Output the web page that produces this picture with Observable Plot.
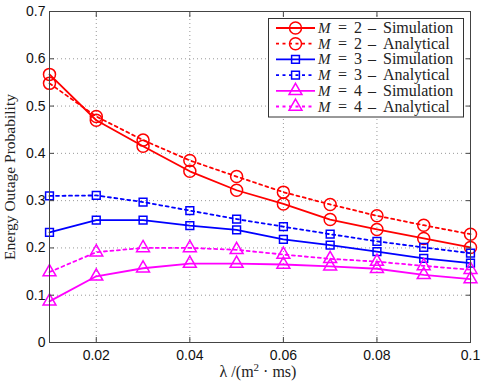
<!DOCTYPE html>
<html><head><meta charset="utf-8">
<script src="https://cdn.jsdelivr.net/npm/d3@7"></script>
<script src="https://cdn.jsdelivr.net/npm/@observablehq/plot@0.6"></script>
<style>body{margin:0;background:#fff}#chart{position:relative;width:485px;height:392px}</style>
</head><body><div id="chart"></div>
<script>
const lambda = [0.01, 0.02, 0.03, 0.04, 0.05, 0.06, 0.07, 0.08, 0.09, 0.1];
const m2Simulation = [0.567, 0.470, 0.415, 0.362, 0.322, 0.293, 0.260, 0.239, 0.220, 0.201];
const m2Analytical = [0.548, 0.478, 0.428, 0.385, 0.351, 0.318, 0.292, 0.268, 0.248, 0.229];
const m3Simulation = [0.233, 0.259, 0.259, 0.247, 0.238, 0.218, 0.206, 0.192, 0.178, 0.168];
const m3Analytical = [0.310, 0.311, 0.297, 0.279, 0.261, 0.245, 0.229, 0.214, 0.201, 0.189];
const m4Simulation = [0.087, 0.140, 0.157, 0.167, 0.167, 0.165, 0.161, 0.156, 0.143, 0.134];
const m4Analytical = [0.149, 0.191, 0.200, 0.200, 0.196, 0.186, 0.177, 0.171, 0.162, 0.154];
const seriesLabels = ["M = 2 – Simulation", "M = 2 – Analytical", "M = 3 – Simulation", "M = 3 – Analytical", "M = 4 – Simulation", "M = 4 – Analytical"];
const xTicks = [0.02, 0.04, 0.06, 0.08, 0.1];
const yTicks = [0, 0.1, 0.2, 0.3, 0.4, 0.5, 0.6, 0.7];
const yLabel = "Energy Outage Probability";
const xLabelParts = ["λ /(m", "2", " · ms)"];

const seriesValues = [m2Simulation, m2Analytical, m3Simulation, m3Analytical, m4Simulation, m4Analytical];
const dashed = "3,3.5";
const styles = [
  {color: "#ff0000", symbol: "circle", r: 6, dash: null},
  {color: "#ff0000", symbol: "circle", r: 6, dash: dashed},
  {color: "#0000ff", symbol: "square", r: 4.4, dash: null},
  {color: "#0000ff", symbol: "square", r: 4.4, dash: dashed},
  {color: "#ff00ff", symbol: "triangle", r: 4.8, dash: null},
  {color: "#ff00ff", symbol: "triangle", r: 4.8, dash: dashed}
];

const marks = [
  Plot.gridX({ticks: xTicks, stroke: "#999", strokeOpacity: 1, strokeDasharray: "1,3"}),
  Plot.gridY({ticks: yTicks, stroke: "#999", strokeOpacity: 1, strokeDasharray: "1,3"}),
];
seriesValues.forEach((vals, i) => {
  const rows = lambda.map((l, j) => ({x: l, y: vals[j]}));
  const s = styles[i];
  marks.push(Plot.line(rows, {x: "x", y: "y", stroke: s.color, strokeWidth: 1.8, strokeDasharray: s.dash}));
  marks.push(Plot.dot(rows, {x: "x", y: "y", stroke: s.color, fill: "none", strokeWidth: 1.5, symbol: s.symbol, r: s.r}));
});
marks.push(
  Plot.frame({stroke: "#444", strokeWidth: 1}),
  Plot.axisX({ticks: xTicks, tickSize: 0, tickPadding: 8, tickFormat: d => String(d), label: null}),
  Plot.axisY({ticks: yTicks, tickSize: 0, tickPadding: 4, tickFormat: d => String(d), label: null}),
  Plot.axisX({ticks: xTicks, anchor: "bottom", tickSize: -5, tickFormat: () => "", label: null, stroke: "#444"}),
  Plot.axisX({ticks: xTicks, anchor: "top", tickSize: -5, tickFormat: () => "", label: null, stroke: "#444"}),
  Plot.axisY({ticks: yTicks, anchor: "left", tickSize: -5, tickFormat: () => "", label: null, stroke: "#444"}),
  Plot.axisY({ticks: yTicks, anchor: "right", tickSize: -5, tickFormat: () => "", label: null, stroke: "#444"})
);

const chart = Plot.plot({
  width: 485, height: 392,
  marginLeft: 49, marginRight: 15, marginTop: 11, marginBottom: 50,
  x: {domain: [0.01, 0.1]},
  y: {domain: [0, 0.7]},
  style: {background: "#fff", fontFamily: "'Liberation Sans', Arial, sans-serif", fontSize: "14px", color: "#111"},
  marks
});
document.getElementById("chart").appendChild(chart);

const svg = d3.select(chart);
const serif = "'Liberation Serif', 'DejaVu Serif', serif";
svg.append("text").attr("transform", "translate(14.5,177) rotate(-90)")
  .attr("text-anchor", "middle").style("font-family", serif).style("font-size", "15.5px").attr("fill", "#222").text(yLabel);
const xl = svg.append("text").attr("x", 258).attr("y", 377)
  .attr("text-anchor", "middle").style("font-family", serif).style("font-size", "16px").attr("fill", "#222");
xl.append("tspan").text(xLabelParts[0]);
xl.append("tspan").attr("dy", -6).style("font-size", "11px").text(xLabelParts[1]);
xl.append("tspan").attr("dy", 6).text(xLabelParts[2]);

// legend
const lg = svg.append("g");
lg.append("rect").attr("x", 268.5).attr("y", 18.5).attr("width", 195).attr("height", 98.5)
  .attr("fill", "#fff").attr("stroke", "#333").attr("stroke-width", 1);
const partX = [318, 338, 354, 368, 383];
seriesLabels.forEach((lab, i) => {
  const s = styles[i];
  const cy = 28 + i * 15.7;
  lg.append("line").attr("x1", 276).attr("x2", 315).attr("y1", cy).attr("y2", cy)
    .attr("stroke", s.color).attr("stroke-width", 1.8).attr("stroke-dasharray", s.dash);
  const sym = {circle: d3.symbolCircle, square: d3.symbolSquare, triangle: d3.symbolTriangle}[s.symbol];
  lg.append("path").attr("d", d3.symbol(sym, Math.PI * s.r * s.r)())
    .attr("transform", `translate(295.5,${cy})`).attr("fill", "none").attr("stroke", s.color).attr("stroke-width", 1.5);
  const [lhs, rhs] = lab.split(" – ");
  const [mSym, eq, num] = lhs.split(" ");
  const pieces = [mSym, eq, num, "–", rhs];
  const t = lg.append("text").attr("y", cy + 5).attr("text-anchor", "start")
    .style("font-family", serif).style("font-size", "16px").attr("fill", "#222");
  pieces.forEach((p, k) => {
    const ts = t.append("tspan").attr("x", partX[k]).text(p);
    if (k === 0) ts.style("font-style", "italic").style("font-size", "15px");
  });
});
</script>
</body></html>
